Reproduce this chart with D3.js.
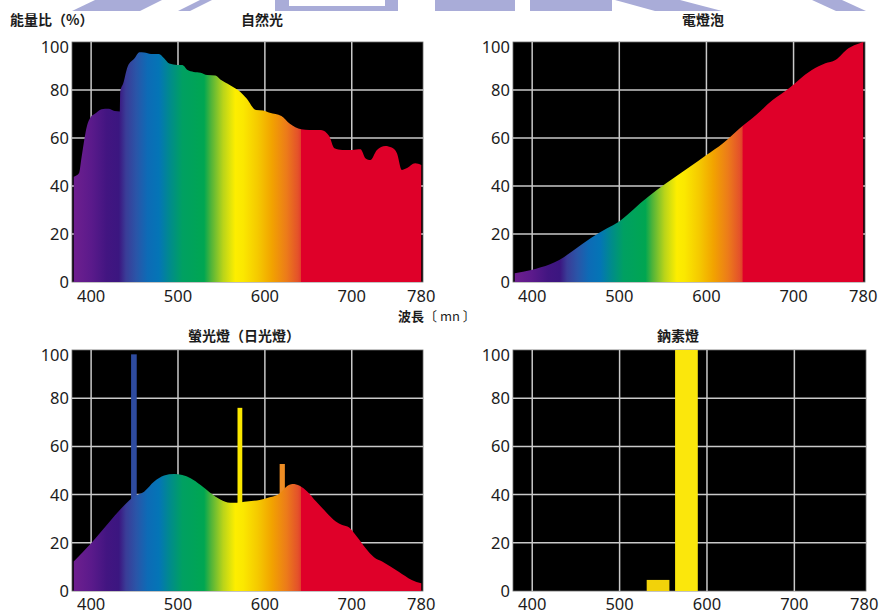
<!DOCTYPE html>
<html>
<head>
<meta charset="utf-8">
<script src="https://cdn.jsdelivr.net/npm/d3@7/dist/d3.min.js"></script>
<style>
  html, body { margin: 0; padding: 0; background: #fff; }
  svg { display: block; }
  .tick-label { font-family: "Noto Sans", "Open Sans", sans-serif; font-size: 16.5px; fill: #1c1c1c; }
  .title { font-family: "Noto Sans CJK TC", "Noto Sans CJK SC", sans-serif; font-weight: 700; font-size: 14px; fill: #1c1c1c; }
</style>
</head>
<body>
<svg id="chart" width="880" height="614"></svg>
<script>
// Axis ticks
const wavelengthTicks = [400, 500, 600, 700, 780];
const wavelengthGrid = [400, 500, 600, 700];
const energyTicks = [0, 20, 40, 60, 80, 100];

// 自然光 (daylight) spectrum
const daylightWl  = [380, 386, 389, 395, 400, 404, 412, 420, 427, 433, 433.5, 437, 442, 450, 455.6, 461, 469, 478, 484, 490, 499, 505, 511, 518, 526, 533.5, 543, 548.7, 560, 571.5, 579, 589.7, 598, 605.6, 619, 628.4, 641.8, 651, 664.6, 674, 680, 689, 700.6, 710, 716, 721.5, 729, 738.6, 746, 752, 757.6, 763, 773, 780];
const daylightVal = [43.9, 45.3, 52, 64.7, 69, 70, 72, 72.2, 71.2, 71, 79.3, 82.8, 89.7, 93.2, 95.7, 95.6, 95, 95, 93.2, 91, 90.4, 90.4, 88.3, 87.5, 87.2, 86.2, 86, 84.4, 82, 79.3, 76.5, 71.7, 71.5, 70.5, 69.2, 66, 63.6, 63.3, 63.3, 60.8, 55.7, 55, 55, 55.3, 51.5, 50.8, 55, 56.7, 56, 53.6, 46.7, 47.4, 49.5, 48.8];

// 電燈泡 (incandescent bulb) spectrum
const bulbWl  = [380, 399, 410, 431, 448, 467, 486, 499.5, 509, 524, 543, 562, 581, 600, 619, 638, 657, 676, 694.8, 706, 721, 736.5, 748, 763, 776, 780];
const bulbVal = [3.6, 5, 6.1, 9.2, 13.3, 18.2, 22.4, 25.1, 27.9, 32.8, 38.3, 43.2, 48, 52.9, 57.8, 64, 69.6, 75.8, 80.7, 84.2, 88.3, 91.1, 92.5, 97.4, 99.5, 100];

// 螢光燈 (fluorescent lamp) continuum
const fluorWl  = [380, 400, 419.5, 438.5, 449, 461, 472.6, 484, 495.5, 505, 514.5, 526, 537, 548.7, 560, 567.7, 579, 594, 605.6, 617, 624.7, 632, 640, 649, 659, 670, 681.6, 689, 697, 706, 716, 725.6, 735, 754, 769, 780];
const fluorVal = [12.2, 19.8, 28, 35.7, 39.1, 41.2, 45.4, 47.9, 48.5, 48.1, 46.8, 44, 40.8, 38, 36.6, 36.6, 37.1, 37.8, 38.9, 40.5, 43.3, 44.4, 43.7, 41.2, 37.1, 32.9, 28.8, 27.4, 26.4, 22.5, 17.7, 14, 12.2, 8, 4.6, 3.2];

// 螢光燈 emission lines (band start, band end, peak)
const fluorLineFrom = [446, 568.5, 617];
const fluorLineTo   = [452.5, 574, 623];
const fluorLineVal  = [98.2, 76, 52.7];

// 鈉素燈 (sodium lamp) bands
const sodiumFrom = [531, 563.5];
const sodiumTo   = [557, 589.5];
const sodiumVal  = [4.6, 100];

// Visible-spectrum colour ramp used for the filled areas
const spectrumStops = [
  [380, "#6e1f8f"], [400, "#5b1a8b"], [418, "#421581"], [432, "#3b1680"],
  [440, "#3a3c97"], [452, "#2a55a8"], [465, "#0d6bb6"], [478, "#0475b6"],
  [492, "#008d88"], [505, "#00a062"], [530, "#00a651"], [538, "#4fb43a"],
  [552, "#b9d41a"], [566, "#fdee00"], [575, "#fbe800"], [592, "#f5c900"],
  [608, "#f2a300"], [625, "#ec7b1a"], [638, "#e4522a"], [641, "#e2412a"],
  [642, "#df0029"], [782, "#df0029"]
];
const fluorLineColors = ["#2e4b9f", "#fbe800", "#ee8d24"];
const sodiumColors = ["#f2d20a", "#fbe70c"];

const svg = d3.select("#chart");

// faint background logo strip
const logo = svg.append("g").attr("fill", "#a9acd8");
[
  [[95,0],[162,0],[140,11],[72,11]],
  [[200,0],[212,0],[190,11],[178,11]],
  [[275,0],[398,0],[398,11],[275,11]],
  [[435,0],[515,0],[515,11],[435,11]],
  [[530,0],[612,0],[612,11],[530,11]],
  [[615,0],[680,0],[722,11],[655,11]],
  [[812,0],[842,0],[866,11],[836,11]]
].forEach(p => logo.append("polygon").attr("points", p.map(q => q.join(",")).join(" ")));
svg.append("rect").attr("x", 289).attr("y", 0).attr("width", 96).attr("height", 6).attr("fill", "#fff");

const panels = [
  { id: "p1", left: 72,  right: 423, top: 42,  bottom: 282, labelGap: 20,   title: "自然光", titleX: 262, titleY: 25 },
  { id: "p2", left: 513, right: 865, top: 42,  bottom: 282, labelGap: 20,   title: "電燈泡", titleX: 703, titleY: 25 },
  { id: "p3", left: 72,  right: 423, top: 350, bottom: 591, labelGap: 18.5, title: "螢光燈（日光燈）", titleX: 244, titleY: 341 },
  { id: "p4", left: 513, right: 866, top: 350, bottom: 591, labelGap: 18.5, title: "鈉素燈", titleX: 678, titleY: 341 }
];

function setupPanel(p) {
  const x = d3.scaleLinear().domain([378, 782]).range([p.left, p.right]);
  const y = d3.scaleLinear().domain([0, 100]).range([p.bottom, p.top]);
  const g = svg.append("g");

  // gradient across the wavelength axis
  const grad = svg.append("defs").append("linearGradient")
    .attr("id", "spec-" + p.id)
    .attr("gradientUnits", "userSpaceOnUse")
    .attr("x1", x(378)).attr("x2", x(782)).attr("y1", 0).attr("y2", 0);
  grad.selectAll("stop").data(spectrumStops).join("stop")
    .attr("offset", d => (x(d[0]) - x(378)) / (x(782) - x(378)))
    .attr("stop-color", d => d[1]);

  g.append("rect")
    .attr("x", p.left).attr("y", p.top)
    .attr("width", p.right - p.left).attr("height", p.bottom - p.top)
    .attr("fill", "#000").attr("stroke", "#6a6a6a").attr("stroke-width", 0.8);

  const grid = g.append("g").attr("stroke", "#c9c9c9").attr("stroke-width", 1.5);
  grid.selectAll("line.v").data(wavelengthGrid).join("line").attr("class", "v")
    .attr("x1", d => x(d)).attr("x2", d => x(d)).attr("y1", p.top).attr("y2", p.bottom);
  grid.selectAll("line.h").data(energyTicks.filter(d => d > 0 && d < 100)).join("line").attr("class", "h")
    .attr("x1", p.left).attr("x2", p.right).attr("y1", d => y(d)).attr("y2", d => y(d));

  // y tick labels
  g.selectAll("text.yl").data(energyTicks).join("text").attr("class", "tick-label yl")
    .attr("x", p.left - 3)
    .attr("y", d => y(d) + (d === 100 ? 5 : 0))
    .attr("dy", "0.36em")
    .attr("text-anchor", "end")
    .text(d => d);

  // x tick labels
  g.selectAll("text.xl").data(wavelengthTicks).join("text").attr("class", "tick-label xl")
    .attr("x", d => x(d))
    .attr("y", p.bottom + p.labelGap)
    .attr("text-anchor", "middle")
    .text(d => d);

  svg.append("text").attr("class", "title")
    .attr("x", p.titleX).attr("y", p.titleY).attr("text-anchor", "middle").text(p.title);

  return { g, x, y };
}

const plots = panels.map(setupPanel);

function drawArea(plot, id, wl, val) {
  const data = wl.map((w, i) => [w, val[i]]);
  const area = d3.area()
    .x(d => plot.x(d[0]))
    .y0(plot.y(0))
    .y1(d => plot.y(d[1]))
    .curve(d3.curveMonotoneX);
  plot.g.append("path").datum(data)
    .attr("d", area)
    .attr("fill", `url(#spec-${id})`);
}

drawArea(plots[0], "p1", daylightWl, daylightVal);
drawArea(plots[1], "p2", bulbWl, bulbVal);

// fluorescent: emission lines behind the continuum
const p3 = plots[2];
p3.g.selectAll("rect.line").data(fluorLineVal).join("rect").attr("class", "line")
  .attr("x", (d, i) => p3.x(fluorLineFrom[i]))
  .attr("width", (d, i) => p3.x(fluorLineTo[i]) - p3.x(fluorLineFrom[i]))
  .attr("y", d => p3.y(d))
  .attr("height", d => p3.y(0) - p3.y(d))
  .attr("fill", (d, i) => fluorLineColors[i]);
drawArea(p3, "p3", fluorWl, fluorVal);

// sodium bands
const p4 = plots[3];
p4.g.selectAll("rect.band").data(sodiumVal).join("rect").attr("class", "band")
  .attr("x", (d, i) => p4.x(sodiumFrom[i]))
  .attr("width", (d, i) => p4.x(sodiumTo[i]) - p4.x(sodiumFrom[i]))
  .attr("y", d => p4.y(d))
  .attr("height", d => p4.y(0) - p4.y(d))
  .attr("fill", (d, i) => sodiumColors[i]);

// shared labels
svg.append("text").attr("class", "title")
  .attr("x", 10).attr("y", 25).text("能量比（%）");
const wlLabel = svg.append("text").attr("class", "title")
  .attr("x", 398).attr("y", 321).style("font-size", "13px");
wlLabel.append("tspan").text("波長");
wlLabel.append("tspan").style("font-weight", 400).text("〔 mn 〕");
</script>
</body>
</html>
